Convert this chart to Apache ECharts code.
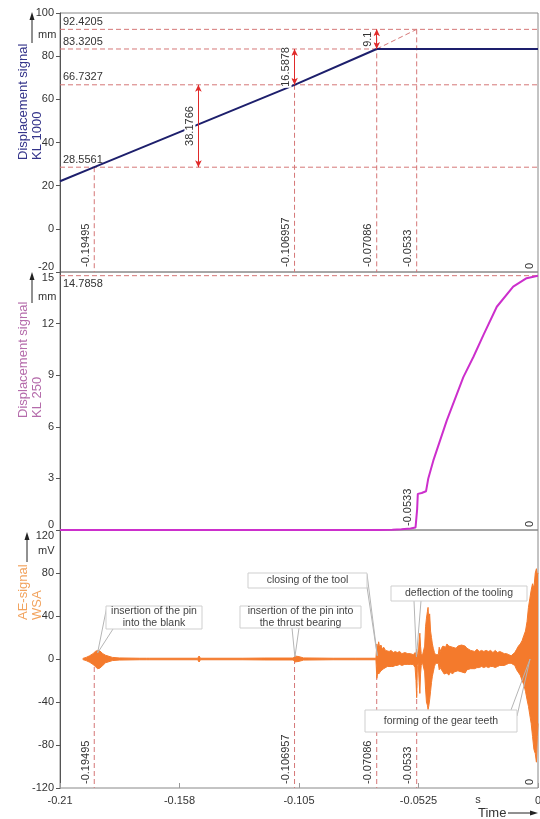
<!DOCTYPE html>
<html>
<head>
<meta charset="utf-8">
<script src="https://cdn.jsdelivr.net/npm/echarts@6/dist/echarts.min.js"></script>
<style>
  html, body { margin: 0; padding: 0; background: #fff; }
  #chart { width: 540px; height: 819px; }
</style>
</head>
<body>
<div id="chart"></div>
<script>
// 시간축 눈금 라벨
var xTickLabels = ['-0.21', '-0.158', '-0.105', '-0.0525', '0'];

// 변위 신호 KL 1000
var kl1000Time = [-0.21, -0.19495, -0.106957, -0.07086, 0];
var kl1000Value = [22.03, 28.5561, 66.7327, 83.3205, 83.3205];
var kl1000Levels = [92.4205, 83.3205, 66.7327, 28.5561];

// 변위 신호 KL 250
var kl250Time = [-0.21, -0.07, -0.064, -0.06, -0.056, -0.0538, -0.0533, -0.0531, -0.0528, -0.0511, -0.0492, -0.0482, -0.046, -0.0401, -0.0328, -0.0284, -0.024, -0.0181, -0.0109, -0.005, 0];
var kl250Value = [0, 0, 0.02, 0.05, 0.09, 0.15, 0.25, 1.2, 2.1, 2.15, 2.25, 3.0, 4.03, 6.36, 8.89, 10.06, 11.33, 12.98, 14.15, 14.64, 14.7858];
var kl250Level = 14.7858;

// AE 신호 (포락선 상단/하단)
var aeTime = [
  -0.2, -0.1985, -0.197, -0.1955, -0.1945, -0.1935, -0.1925, -0.1912, -0.19, -0.1885, -0.187, -0.184, -0.175,
  -0.172, -0.1713, -0.1706, -0.1495, -0.1489, -0.1483, -0.13, -0.12, -0.1075, -0.1068, -0.105, -0.103, -0.09, -0.08, -0.0712,
  -0.0708, -0.0704, -0.07, -0.0696, -0.069, -0.0684, -0.0678, -0.067, -0.0662, -0.0654, -0.0645, -0.0636, -0.0627, -0.0618,
  -0.0608, -0.0598, -0.0585, -0.0572, -0.056, -0.0548, -0.054, -0.0536, -0.0533, -0.053, -0.0526, -0.0522, -0.0519, -0.0516,
  -0.0513, -0.0508, -0.0502, -0.0498, -0.0494, -0.049, -0.0486, -0.0483, -0.048, -0.0476, -0.0472, -0.0468, -0.0464, -0.046,
  -0.0455, -0.045, -0.0444, -0.0438, -0.0434, -0.043, -0.0424, -0.0418, -0.0412, -0.0406, -0.04, -0.0392, -0.0384, -0.0376,
  -0.0368, -0.036, -0.0352, -0.0344, -0.0336, -0.0328, -0.032, -0.0312, -0.0304, -0.0296, -0.0288, -0.0278, -0.0268, -0.0258,
  -0.0248, -0.0238, -0.0228, -0.0218, -0.0208, -0.0198, -0.0188, -0.0178, -0.0168, -0.0158, -0.0148, -0.0138, -0.0128, -0.0118,
  -0.011, -0.0102, -0.0094, -0.0086, -0.0078, -0.007, -0.0062, -0.0055, -0.0048, -0.0042, -0.0036, -0.003, -0.0024, -0.0018,
  -0.0012, -0.0007, -0.0003, 0];
var aeUpper = [
  0.5, 1.5, 3, 5, 7, 8, 7.5, 5, 3.5, 2.5, 1.5, 1, 0.7,
  0.7, 1.8, 0.7, 0.7, 2.8, 0.7, 0.7, 0.9, 0.9, 2.8, 2.2, 1, 0.7, 0.7, 0.7,
  14, 10, 16, 11, 13, 9, 11, 8, 9, 7, 8, 6, 7, 6,
  7, 5, 6, 5, 5, 4, 6, 4, 9, 5, 3, 18, 24, 12,
  5, 3, 3, 12, 30, 38, 44, 48, 36, 42, 26, 20, 14, 10,
  6, 4, 3, 4, 11, 7, 10, 12, 13, 11, 14, 12, 13, 11,
  12, 10, 12, 11, 13, 14, 12, 10, 9, 8, 9, 7, 9, 7,
  8, 7, 8, 7, 8, 6, 8, 6, 7, 6, 5, 5, 4, 3,
  3, 6, 9, 12, 14, 17, 22, 26, 35, 48, 56, 64, 70, 66,
  80, 84, 78, 80];
var aeLower = [
  -0.5, -1.5, -3, -5, -7, -9, -8.5, -6, -3.5, -2.5, -1.5, -1, -0.7,
  -0.7, -1.8, -0.7, -0.7, -2.8, -0.7, -0.7, -0.9, -0.9, -2.8, -2.2, -1, -0.7, -0.7, -0.7,
  -18, -12, -14, -13, -11, -10, -9, -9, -7, -8, -7, -7, -6, -6,
  -5, -6, -5, -5, -5, -5, -8, -20, -36, -6, -4, -22, -32, -14,
  -6, -3, -3, -12, -28, -40, -43, -47, -44, -38, -30, -22, -16, -12,
  -7, -4, -3, -4, -10, -8, -9, -12, -14, -15, -13, -15, -12, -14,
  -12, -13, -11, -12, -12, -11, -13, -10, -11, -9, -8, -9, -8, -8,
  -7, -8, -7, -8, -7, -7, -8, -7, -6, -6, -6, -5, -4, -4,
  -3, -6, -10, -11, -15, -20, -24, -30, -38, -44, -52, -60, -72, -84,
  -88, -96, -72, -60];

// 이벤트 시점
var eventTimes = [-0.19495, -0.106957, -0.07086, -0.0533];
var eventLabels = ['-0.19495', '-0.106957', '-0.07086', '-0.0533'];
var eventTopsKL1000 = [28.5561, 66.7327, 92.4205, 92.4205];

// 치수 화살표 (KL 1000)
var dimTimes = [-0.1492, -0.106957, -0.07086];
var dimFrom = [28.5561, 66.7327, 83.3205];
var dimTo = [66.7327, 83.3205, 92.4205];
var dimLabels = ['38.1766', '16.5878', '9.1'];

function pairs(xs, ys) {
  return xs.map(function (x, i) { return [x, ys[i]]; });
}

var dashColor = '#d57777';
var FONT = '"Liberation Sans", Arial, sans-serif';

var chart = echarts.init(document.getElementById('chart'));

// 점선 보조선 (구간별 시리즈)
function dashSeries(grid, p1, p2) {
  return {
    type: 'line', xAxisIndex: grid, yAxisIndex: grid, data: [p1, p2],
    showSymbol: false, silent: true, z: 2,
    lineStyle: { color: dashColor, type: [5, 3], width: 1 }
  };
}
var dashList = [];
kl1000Levels.forEach(function (v) { dashList.push(dashSeries(0, [-0.21, v], [0, v])); });
eventTimes.forEach(function (t, i) { dashList.push(dashSeries(0, [t, eventTopsKL1000[i]], [t, -20])); });
dashList.push(dashSeries(0, [-0.07086, 83.3205], [-0.0533, 92.4205]));
dashList.push(dashSeries(1, [-0.21, kl250Level], [0, kl250Level]));
eventTimes.forEach(function (t) { dashList.push(dashSeries(2, [t, 0], [t, -120])); });

var arrowLines = dimTimes.map(function (t, i) {
  return [{ coord: [t, dimFrom[i]] }, { coord: [t, dimTo[i]] }];
});

function xAxisFor(idx, showLabels) {
  return {
    type: 'value', gridIndex: idx, position: 'bottom', min: -0.21, max: 0, interval: 0.0525,
    axisLine: { show: false, onZero: false },
    axisTick: { show: showLabels, inside: true, length: 5, lineStyle: { color: '#999' } },
    axisLabel: {
      show: showLabels, color: '#333', fontSize: 11, fontFamily: FONT, margin: 7,
      formatter: function (v, i) { return xTickLabels[i]; }
    },
    splitLine: { show: false }
  };
}

function yAxisFor(idx, min, max, interval, extra) {
  var label = {
    color: '#333', fontSize: 11, fontFamily: FONT, margin: 6
  };
  Object.assign(label, extra || {});
  return {
    type: 'value', gridIndex: idx, position: 'left', min: min, max: max, interval: interval,
    axisLine: { show: true, onZero: false, lineStyle: { color: '#555' } },
    axisTick: { show: true, length: 4, lineStyle: { color: '#555' } },
    axisLabel: label,
    splitLine: { show: false }
  };
}

var gridBase = { left: 60, right: 2, show: true, borderColor: '#888', borderWidth: 1, outerBoundsMode: 'none' };

var option = {
  animation: false,
  grid: [
    Object.assign({ top: 13, height: 259 }, gridBase),
    Object.assign({ top: 272, height: 258 }, gridBase),
    Object.assign({ top: 530, height: 258 }, gridBase)
  ],
  xAxis: [xAxisFor(0, false), xAxisFor(1, false), xAxisFor(2, true)],
  yAxis: [
    yAxisFor(0, -20, 100, 20, { verticalAlignMinLabel: 'bottom' }),
    yAxisFor(1, 0, 15, 3, { verticalAlignMinLabel: 'bottom', verticalAlignMaxLabel: 'top' }),
    yAxisFor(2, -120, 120, 40, { verticalAlignMaxLabel: 'top' })
  ],
  series: dashList.concat([
    {
      name: 'KL 1000', type: 'line', xAxisIndex: 0, yAxisIndex: 0,
      data: pairs(kl1000Time, kl1000Value), showSymbol: false, z: 3,
      lineStyle: { color: '#1d1f6c', width: 2 }
    },
    {
      name: 'dim', type: 'line', xAxisIndex: 0, yAxisIndex: 0, data: [], z: 4,
      markLine: {
        silent: true, symbol: ['arrow', 'arrow'], symbolSize: [5, 7], label: { show: false },
        lineStyle: { color: '#e02a2a', type: 'solid', width: 1 },
        data: arrowLines
      }
    },
    {
      name: 'KL 250', type: 'line', xAxisIndex: 1, yAxisIndex: 1,
      data: pairs(kl250Time, kl250Value), showSymbol: false, z: 3,
      lineStyle: { color: '#cc2fcc', width: 2 }
    },
    {
      name: 'AE upper', type: 'line', xAxisIndex: 2, yAxisIndex: 2,
      data: pairs(aeTime, aeUpper), showSymbol: false, z: 3,
      lineStyle: { color: '#f47a2c', width: 1 },
      areaStyle: { color: '#f47a2c', opacity: 1 }
    },
    {
      name: 'AE lower', type: 'line', xAxisIndex: 2, yAxisIndex: 2,
      data: pairs(aeTime, aeLower), showSymbol: false, z: 3,
      lineStyle: { color: '#f47a2c', width: 1 },
      areaStyle: { color: '#f47a2c', opacity: 1 }
    }
  ])
};

chart.setOption(option);

// 주석 (좌표 변환 후 배치)
function px(grid, t, v) { return chart.convertToPixel({ gridIndex: grid }, [t, v]); }
var bottoms = [272, 530, 788];
var g = [];

function txt(x, y, text, opt) {
  var s = Object.assign({ text: text, font: '11px ' + FONT, fill: '#333', align: 'left', verticalAlign: 'middle' }, opt && opt.style);
  g.push({ type: 'text', x: x, y: y, rotation: (opt && opt.rotation) || 0, z: 100, style: s });
}
function rotLabel(x, y, text, extra) {
  txt(x, y, text, { rotation: Math.PI / 2, style: Object.assign({ align: 'left', verticalAlign: 'middle' }, extra) });
}

// 수평 기준선 라벨
kl1000Levels.forEach(function (v) {
  var p = px(0, -0.21, v);
  txt(63, p[1] - 2, v.toFixed(4), { style: { verticalAlign: 'bottom' } });
});
txt(63, px(1, -0.21, kl250Level)[1] + 3, kl250Level.toFixed(4), { style: { verticalAlign: 'top' } });

// 이벤트 시점 라벨
eventTimes.forEach(function (t, i) {
  var x = px(0, t, 0)[0] - 8.5;
  rotLabel(x, bottoms[0] - 5, eventLabels[i]);
  rotLabel(x, bottoms[2] - 4, eventLabels[i]);
});
rotLabel(px(1, -0.0533, 0)[0] - 8.5, bottoms[1] - 4, '-0.0533');
bottoms.forEach(function (b) { rotLabel(529.5, b - 3, '0'); });

// 치수 라벨
dimTimes.forEach(function (t, i) {
  var p = px(0, t, (dimFrom[i] + dimTo[i]) / 2);
  txt(p[0] - 8.5, p[1], dimLabels[i], {
    rotation: Math.PI / 2,
    style: { align: 'center', verticalAlign: 'middle', backgroundColor: '#fff', padding: [0, 1] }
  });
});

// 축 이름과 단위
function axisName(x, y, lines, color) {
  g.push({
    type: 'text', x: x, y: y, rotation: Math.PI / 2, z: 100,
    style: { text: lines, font: '13px ' + FONT, fill: color, align: 'left', verticalAlign: 'top', lineHeight: 14 }
  });
}
axisName(16, 160, 'Displacement signal\nKL 1000', '#34348a');
axisName(16, 418, 'Displacement signal\nKL 250', '#b56cab');
axisName(16, 620, 'AE-signal\nWSA', '#f2a35e');

function unitArrow(x, yTop, yBot) {
  g.push({ type: 'line', z: 100, shape: { x1: x, y1: yBot, x2: x, y2: yTop + 6 }, style: { stroke: '#222', lineWidth: 1 } });
  g.push({ type: 'polygon', z: 100, shape: { points: [[x, yTop], [x - 2.5, yTop + 8], [x + 2.5, yTop + 8]] }, style: { fill: '#222' } });
}
unitArrow(32, 12, 43);
unitArrow(32, 272, 303);
unitArrow(27, 532, 562);
txt(38, 35, 'mm');
txt(38, 297, 'mm');
txt(38, 551, 'mV');

// 시간축 이름
txt(478, 800, 's', { style: { align: 'center' } });
txt(478, 813, 'Time', { style: { font: '13px ' + FONT } });
g.push({ type: 'line', z: 100, shape: { x1: 508, y1: 813, x2: 532, y2: 813 }, style: { stroke: '#222', lineWidth: 1 } });
g.push({ type: 'polygon', z: 100, shape: { points: [[538, 813], [530, 810.5], [530, 815.5]] }, style: { fill: '#222' } });

// AE 신호 설명 박스
function callout(box, lines, anchor, ends) {
  ends.forEach(function (e) {
    g.push({ type: 'line', z: 90, shape: { x1: anchor[0], y1: anchor[1], x2: e[0], y2: e[1] }, style: { stroke: '#b5b5b5', lineWidth: 1 } });
  });
  g.push({ type: 'rect', z: 95, shape: { x: box[0], y: box[1], width: box[2], height: box[3] }, style: { fill: '#fff', stroke: '#cfcfcf', lineWidth: 1 } });
  g.push({
    type: 'text', z: 100, x: box[0] + box[2] / 2, y: box[1] + box[3] / 2,
    style: { text: lines, font: '10.5px ' + FONT, fill: '#444', align: 'center', verticalAlign: 'middle', lineHeight: 12 }
  });
}
var a1 = px(2, -0.1935, 0), a2 = px(2, -0.1068, 0), a3 = px(2, -0.0706, 3), a4 = px(2, -0.0534, 2), a5 = px(2, -0.0035, 0);
callout([106, 606, 96, 23], 'insertion of the pin\ninto the blank', [a1[0], a1[1] - 6], [[107, 606], [113, 629]]);
callout([240, 606, 121, 22], 'insertion of the pin into\nthe thrust bearing', [a2[0], a2[1] - 2], [[292, 628], [299, 628]]);
callout([248, 573, 119, 15], 'closing of the tool', a3, [[367, 574], [367, 587]]);
callout([391, 586, 136, 15], 'deflection of the tooling', a4, [[414, 601], [421, 601]]);
callout([365, 710, 152, 22], 'forming of the gear teeth', a5, [[511, 710], [517, 716]]);

chart.setOption({ graphic: g });
</script>
</body>
</html>
